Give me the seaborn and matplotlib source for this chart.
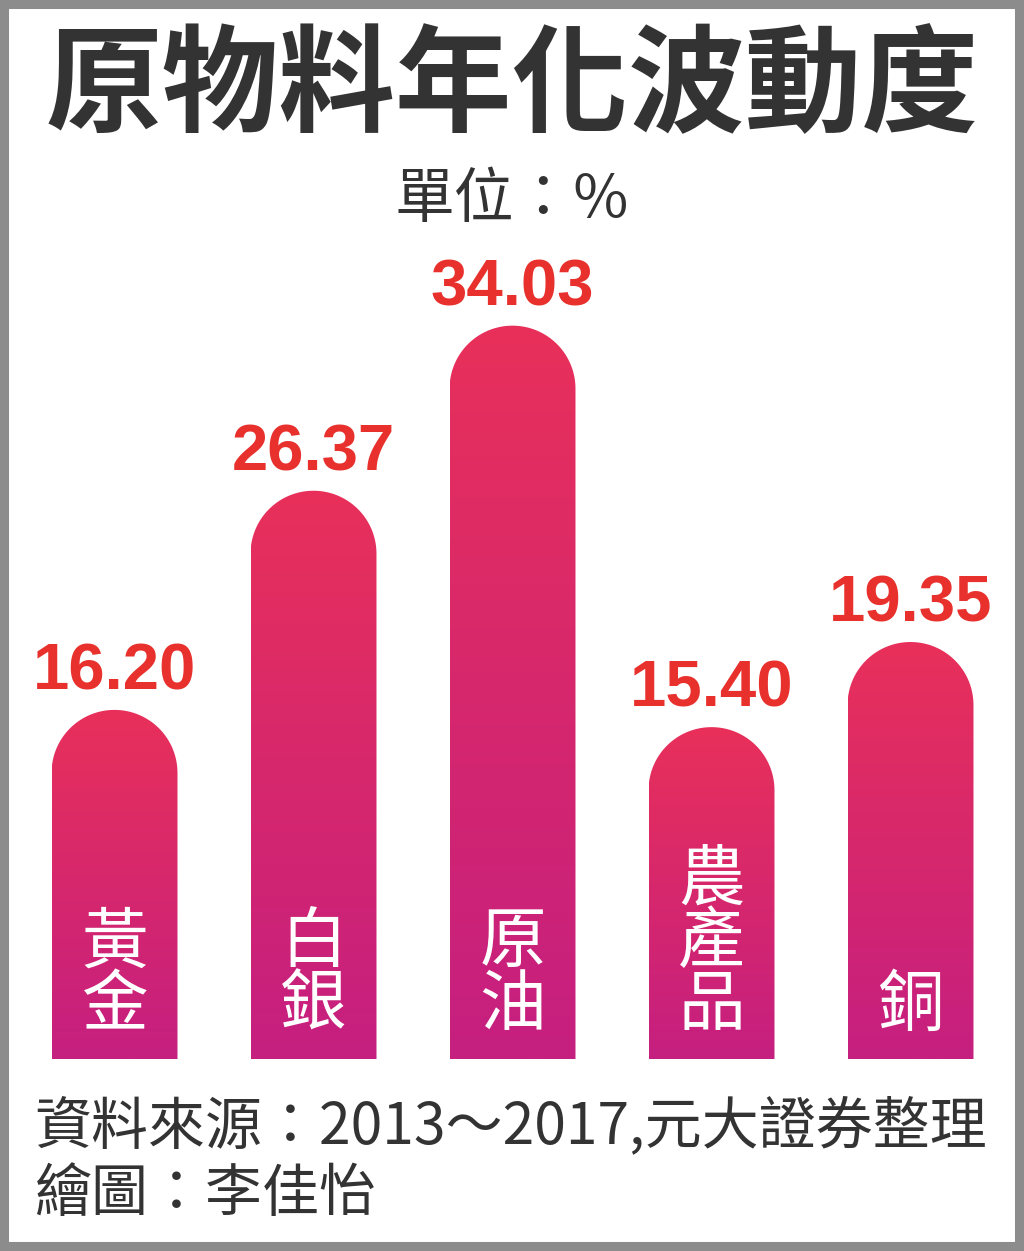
import numpy as np
import pandas as pd
import matplotlib
matplotlib.use('Agg')
import matplotlib.pyplot as plt
from matplotlib.path import Path
from matplotlib.patches import PathPatch, Rectangle
from matplotlib.colors import to_rgb
import seaborn as sns

# 資料
categories = ['黃金', '白銀', '原油', '農產品', '銅']
values = [16.20, 26.37, 34.03, 15.40, 19.35]
value_labels = ['16.20', '26.37', '34.03', '15.40', '19.35']

TITLE = '原物料年化波動度'
UNIT = '單位：%'
SOURCE = '資料來源：2013～2017,元大證券整理'
CREDIT = '繪圖：李佳怡'

TOP_COLOR = '#e8305a'
BOTTOM_COLOR = '#c51f80'
TEXT_DARK = '#333333'
VALUE_RED = '#e8302c'
CJK = ['Noto Sans CJK TC', 'DejaVu Sans']

sns.set_theme(style='white')
plt.rcParams['font.family'] = CJK

W, H = 1024, 1251
fig = plt.figure(figsize=(W / 100, H / 100), dpi=100)
fig.patch.set_facecolor('white')
ax = fig.add_axes([15 / W, (H - 1059) / H, 995 / W, 862 / H])

df = pd.DataFrame({'cat': categories, 'val': values})
sns.barplot(data=df, x='cat', y='val', hue='cat', palette=['#dd2a6a'] * len(categories),
            width=0.633, legend=False, ax=ax)

ax.set_xlim(-0.5, 4.5)
ax.set_ylim(0, 40)
ax.axis('off')

# 圓頂 + 漸層
px_x = 995 / 5.0
px_y = 862 / 40.0
grad = np.linspace(0, 1, 256)[:, None]
c_top = np.array(to_rgb(TOP_COLOR))
c_bot = np.array(to_rgb(BOTTOM_COLOR))
img = (c_bot[None, None, :] * (1 - grad[..., None]) + c_top[None, None, :] * grad[..., None])

for p in list(ax.patches):
    x0 = p.get_x()
    w = p.get_width()
    h = p.get_height()
    x1 = x0 + w
    rx = w / 2
    ry = rx * px_x / px_y
    cx = x0 + rx
    t = np.linspace(np.pi, 0, 60)
    arc = np.column_stack([cx + rx * np.cos(t), (h - ry) + ry * np.sin(t)])
    verts = np.vstack([[x0, 0], [x0, h - ry], arc, [x1, 0], [x0, 0]])
    codes = [Path.MOVETO] + [Path.LINETO] * (len(verts) - 2) + [Path.CLOSEPOLY]
    clip = PathPatch(Path(verts, codes), facecolor='none', edgecolor='none',
                     transform=ax.transData)
    ax.add_patch(clip)
    im = ax.imshow(img, extent=(x0, x1, 0, h), origin='lower', aspect='auto',
                   interpolation='bilinear', zorder=2)
    im.set_clip_path(clip)
    p.set_visible(False)

ax.set_xlim(-0.5, 4.5)
ax.set_ylim(0, 40)

# 數值標籤
for i, (v, lab) in enumerate(zip(values, value_labels)):
    ax.annotate(lab, xy=(i, v), xytext=(0, 14.5), textcoords='offset points',
                ha='center', va='baseline', color=VALUE_RED, fontsize=47,
                fontweight='bold', family=['Liberation Sans', 'DejaVu Sans'], zorder=5)

# 類別名稱(直排)
for i, name in enumerate(categories):
    n = len(name)
    for k, ch in enumerate(name):
        off = 38.0 + (n - 1 - k) * 45.0
        ax.annotate(ch, xy=(i, 0), xytext=(0, off), textcoords='offset points',
                    ha='center', va='center', color='white', fontsize=48,
                    fontweight='medium', family=CJK, zorder=5)

# 標題
fig.text(0.5, 1 - 89 / H, TITLE, ha='center', va='center', fontsize=84,
         fontweight='bold', color=TEXT_DARK, family=CJK)
fig.text(0.5, 1 - 201 / H, UNIT, ha='center', va='center', fontsize=43,
         color=TEXT_DARK, family=CJK)

# 資料來源
fig.text(34 / W, 1 - 1127 / H, SOURCE, ha='left', va='center', fontsize=41,
         color=TEXT_DARK, family=CJK)
fig.text(34 / W, 1 - 1195 / H, CREDIT, ha='left', va='center', fontsize=41,
         color=TEXT_DARK, family=CJK)

# 外框
fig.patches.append(Rectangle((0, 0), 1, 1, transform=fig.transFigure, fill=False,
                             edgecolor='#8c8c8c', linewidth=13, zorder=10))

fig.savefig('out.png', dpi=100)
